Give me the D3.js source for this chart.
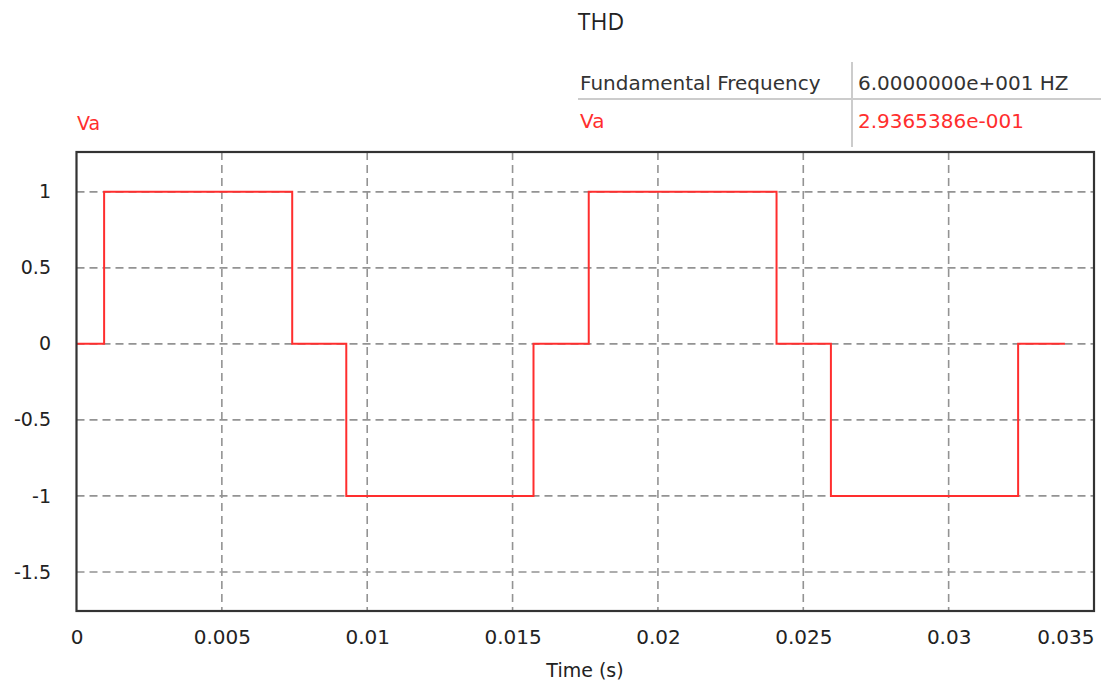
<!DOCTYPE html>
<html lang="en">
<head>
<meta charset="utf-8"/>
<title>THD - Va</title>
<script src="https://d3js.org/d3.v7.min.js"></script>
<style>
  body { margin: 0; background: #fff; }
  text { font-family: "DejaVu Sans", sans-serif; }
</style>
</head>
<body>
<script>
// step waveform (value holds until next time)
var times  = [0, 0.00095, 0.00742, 0.00928, 0.01572, 0.01762, 0.02408, 0.02595, 0.03239, 0.034];
var values = [0, 1, 0, -1, 0, 1, 0, -1, 0, 0];

var xTicks = [0, 0.005, 0.01, 0.015, 0.02, 0.025, 0.03, 0.035];
var yTicks = [1, 0.5, 0, -0.5, -1, -1.5];

var tableLabels = ["Fundamental Frequency", "Va"];
var tableValues = ["6.0000000e+001 HZ", "2.9365386e-001"];

var w = 1101, h = 683;
var pLeft = 76.5, pRight = 1094, pTop = 152, pBottom = 611;
var red = "#ff2e2e";

var svg = d3.select("body").append("svg")
    .attr("width", w)
    .attr("height", h);

var xScale = d3.scaleLinear().domain([0, 0.035]).range([pLeft, pRight]);
var yScale = d3.scaleLinear().domain([-1.757, 1.262]).range([pBottom, pTop]);

// plain hyphen for negatives, like the original
var fmt = function (d) { return String(d); };

// title
svg.append("text")
    .attr("x", 601).attr("y", 30)
    .attr("text-anchor", "middle")
    .style("font-family", "'Open Sans', sans-serif")
    .style("font-size", "23px")
    .style("fill", "#222")
    .text("THD");

// table
svg.append("line").attr("x1", 578).attr("x2", 1101).attr("y1", 99).attr("y2", 99)
    .style("stroke", "#ccc").style("stroke-width", 2);
svg.append("line").attr("x1", 852).attr("x2", 852).attr("y1", 62).attr("y2", 147)
    .style("stroke", "#ccc").style("stroke-width", 2);

svg.selectAll(".tlab").data(tableLabels).enter().append("text")
    .attr("x", 580)
    .attr("y", function (d, i) { return 90 + i * 38; })
    .style("font-size", "20px")
    .style("fill", function (d, i) { return i == 0 ? "#333" : red; })
    .text(function (d) { return d; });

svg.selectAll(".tval").data(tableValues).enter().append("text")
    .attr("x", 858)
    .attr("y", function (d, i) { return 90 + i * 38; })
    .style("font-size", "20px")
    .style("fill", function (d, i) { return i == 0 ? "#333" : red; })
    .text(function (d) { return d; });

// series name above the plot
svg.append("text")
    .attr("x", 77).attr("y", 130)
    .style("font-size", "19px")
    .style("fill", red)
    .text("Va");

// grid
svg.append("g").selectAll("line").data(xTicks.slice(1, -1)).enter().append("line")
    .attr("x1", function (d) { return xScale(d); })
    .attr("x2", function (d) { return xScale(d); })
    .attr("y1", pTop).attr("y2", pBottom)
    .style("stroke", "#939393").style("stroke-width", 1.6)
    .style("stroke-dasharray", "8,5");

svg.append("g").selectAll("line").data(yTicks).enter().append("line")
    .attr("x1", pLeft).attr("x2", pRight)
    .attr("y1", function (d) { return yScale(d); })
    .attr("y2", function (d) { return yScale(d); })
    .style("stroke", "#939393").style("stroke-width", 1.6)
    .style("stroke-dasharray", "8,5");

// waveform
var pts = times.map(function (t, i) { return [t, values[i]]; });
var line = d3.line()
    .x(function (d) { return xScale(d[0]); })
    .y(function (d) { return yScale(d[1]); })
    .curve(d3.curveStepAfter);

svg.append("path")
    .datum(pts)
    .attr("d", line)
    .style("fill", "none")
    .style("stroke", red)
    .style("stroke-width", 2);

// frame
svg.append("rect")
    .attr("x", pLeft).attr("y", pTop)
    .attr("width", pRight - pLeft).attr("height", pBottom - pTop)
    .style("fill", "none").style("stroke", "#333").style("stroke-width", 2.2);

// axes labels (drawn through d3 axes, lines hidden)
var xAxis = svg.append("g")
    .attr("transform", "translate(0," + pBottom + ")")
    .call(d3.axisBottom(xScale).tickValues(xTicks).tickFormat(fmt).tickSize(0).tickPadding(19));
xAxis.select(".domain").remove();
xAxis.selectAll("text")
    .style("font-family", "'DejaVu Sans', sans-serif")
    .style("font-size", "20px").style("fill", "#222")
    .attr("text-anchor", function (d) { return d == 0.035 ? "end" : "middle"; });

var yAxis = svg.append("g")
    .attr("transform", "translate(51,0)")
    .call(d3.axisLeft(yScale).tickValues(yTicks).tickFormat(fmt).tickSize(0).tickPadding(0));
yAxis.select(".domain").remove();
yAxis.selectAll("text")
    .style("font-family", "'DejaVu Sans', sans-serif")
    .style("font-size", "19px").style("fill", "#222");

svg.append("text")
    .attr("x", 585).attr("y", 677)
    .attr("text-anchor", "middle")
    .style("font-size", "19px")
    .style("fill", "#222")
    .text("Time (s)");
</script>
</body>
</html>
